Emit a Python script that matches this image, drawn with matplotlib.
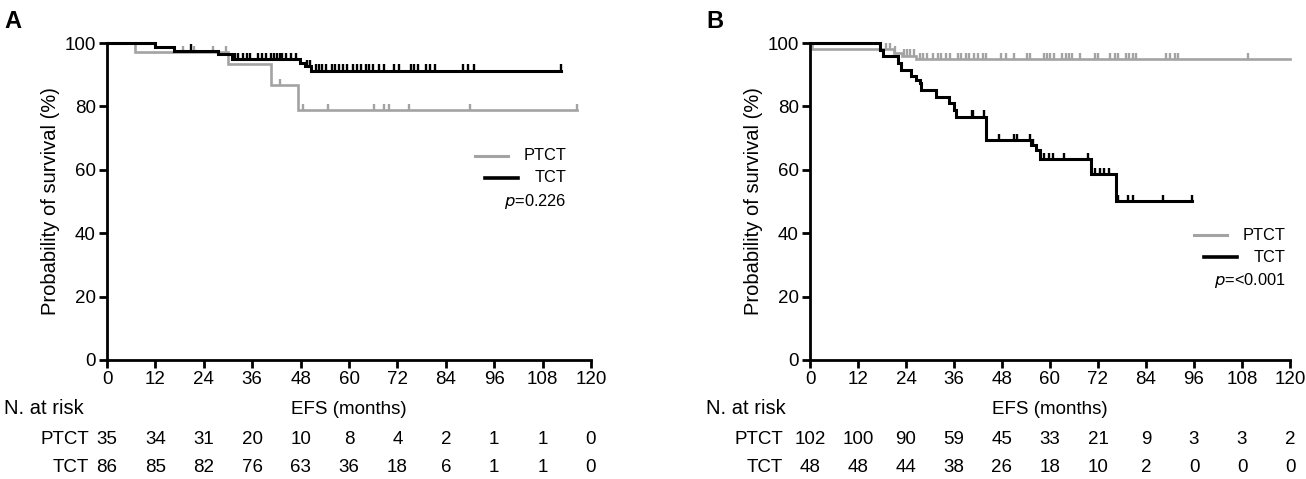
import numpy as np
import matplotlib
matplotlib.use('Agg')
import matplotlib.pyplot as plt
import matplotlib.transforms as mtransforms

plt.rcParams['font.family'] = ['Liberation Sans', 'DejaVu Sans']

GREY = '#a3a3a3'
BLACK = '#000000'
FS = 13.5
LEG_FS = 11.8
months = [0, 12, 24, 36, 48, 60, 72, 84, 96, 108, 120]

# ---- panel A ----
a_ptct_t = [0, 6.9, 30.0, 40.6, 47.4]
a_ptct_s = [100, 97.1, 93.4, 86.6, 78.9]
a_ptct_end = 116.5
a_ptct_cens = [18.9, 21.6, 26.2, 29.5, 43.0, 48.6, 54.8, 66.3, 68.7, 70.0,
               74.9, 89.9, 116.5]

a_tct_t = [0, 11.9, 16.6, 27.5, 31.0, 47.9, 49.1, 50.6]
a_tct_s = [100, 98.8, 97.6, 96.4, 95.0, 93.8, 92.6, 91.3]
a_tct_end = 112.5
a_tct_cens = [20.8, 31.8, 32.6, 33.8, 34.7, 35.5, 37.5, 38.5, 39.4, 40.7,
              41.3, 42.1, 42.9, 43.3, 44.3, 45.7, 46.8, 49.5, 50.3,
              51.8, 52.6, 53.4, 54.2, 55.8, 56.6, 57.4, 58.6, 59.6, 61.1,
              62.0, 63.0, 64.1, 65.0, 66.0, 67.4, 68.6, 71.1, 72.3, 75.3,
              76.2, 77.1, 79.2, 80.1, 81.2, 88.2, 89.5, 90.9, 112.5]

a_risk_ptct = [35, 34, 31, 20, 10, 8, 4, 2, 1, 1, 0]
a_risk_tct = [86, 85, 82, 76, 63, 36, 18, 6, 1, 1, 0]
a_pval = '=0.226'

# ---- panel B ----
b_ptct_t = [0, 0.6, 21.0, 23.0, 26.5]
b_ptct_s = [100, 98.0, 97.0, 96.0, 94.9]
b_ptct_end = 120
b_ptct_cens = [19.1, 20.0, 21.2, 23.5, 24.3, 25.0, 26.0, 27.4, 28.2, 29.3,
               30.7, 31.9, 32.8, 34.0, 35.1, 36.9, 37.7, 38.9, 39.8, 41.0,
               41.9, 43.2, 44.0, 47.7, 49.0, 51.0, 54.3, 55.1, 58.4, 59.3,
               60.1, 61.0, 63.0, 63.9, 64.7, 65.5, 67.6, 71.3, 72.1, 75.0,
               76.3, 77.1, 79.0, 79.8, 80.7, 81.5, 89.1, 90.0, 91.2, 92.0,
               109.5]

b_tct_t = [0, 17.4, 18.3, 22.0, 22.8, 25.3, 26.5, 27.4, 27.8, 31.5, 34.8,
           36.1, 36.5, 44.0, 55.3, 56.4, 57.5, 70.2, 76.5]
b_tct_s = [100, 97.9, 95.8, 93.7, 91.6, 89.5, 88.4, 87.3, 85.2, 83.1, 81.1,
           79.0, 76.8, 69.4, 67.8, 66.2, 63.3, 58.6, 50.2]
b_tct_end = 95.4
b_tct_cens = [40.4, 40.8, 43.5, 47.3, 51.0, 51.7, 55.0, 55.8, 58.6, 59.7,
              60.8, 63.4, 69.5, 71.3, 72.4, 73.6, 74.7, 77.0, 79.6, 80.7,
              88.3, 95.4]

b_risk_ptct = [102, 100, 90, 59, 45, 33, 21, 9, 3, 3, 2]
b_risk_tct = [48, 48, 44, 38, 26, 18, 10, 2, 0, 0, 0]
b_pval = '=<0.001'


def km_curve(ax, t, s, end, cens, color, lw):
    x = list(t) + [end]
    y = list(s) + [s[-1]]
    ax.step(x, y, where='post', color=color, lw=lw, clip_on=False,
            solid_joinstyle='miter')
    t = np.asarray(t)
    for c in cens:
        i = np.searchsorted(t, c, side='right') - 1
        ax.vlines(c, s[i], s[i] + 2.0, color=color, lw=1.7, clip_on=False)


def panel(fig, rect, letter, lx, rowx, leg, ptct, tct, risk_p, risk_t, pval):
    ax = fig.add_axes(rect)
    km_curve(ax, *ptct, GREY, 1.9)
    km_curve(ax, *tct, BLACK, 2.2)
    ax.set_xlim(0, 120)
    ax.set_ylim(0, 100)
    ax.set_xticks(months)
    ax.set_yticks([0, 20, 40, 60, 80, 100])
    for sp in ['top', 'right']:
        ax.spines[sp].set_visible(False)
    for sp in ['left', 'bottom']:
        ax.spines[sp].set_linewidth(2.0)
    ax.tick_params(width=2.0, length=6, labelsize=FS, pad=2, color='black')
    ax.set_ylabel('Probability of survival (%)', fontsize=14.5, labelpad=3)

    # legend, right aligned
    tr = ax.transAxes
    xr, y0 = leg
    dy = 0.07
    ax.plot([xr - 0.19, xr - 0.122], [y0, y0], color=GREY, lw=2.2,
            transform=tr, clip_on=False)
    ax.plot([xr - 0.17, xr - 0.10], [y0 - dy, y0 - dy], color=BLACK, lw=2.6,
            transform=tr, clip_on=False)
    ax.text(xr, y0, 'PTCT', transform=tr, ha='right', va='center', fontsize=LEG_FS)
    ax.text(xr, y0 - dy, 'TCT', transform=tr, ha='right', va='center', fontsize=LEG_FS)
    ax.text(xr, y0 - 2.05 * dy, r'$\it{p}$' + pval, transform=tr, ha='right',
            va='center', fontsize=LEG_FS)

    # risk table
    bt = mtransforms.blended_transform_factory(ax.transData, fig.transFigure)
    fig.text(lx, 1 - 409 / 479, 'N. at risk', ha='left', va='center', fontsize=14.5)
    ax.text(60, 1 - 409 / 479, 'EFS (months)', transform=bt, ha='center',
            va='center', fontsize=FS)
    fig.text(rowx, 1 - 440 / 479, 'PTCT', ha='right', va='center', fontsize=FS)
    fig.text(rowx, 1 - 467 / 479, 'TCT', ha='right', va='center', fontsize=FS)
    for m, n1, n2 in zip(months, risk_p, risk_t):
        ax.text(m, 1 - 440 / 479, str(n1), transform=bt, ha='center', va='center', fontsize=FS)
        ax.text(m, 1 - 467 / 479, str(n2), transform=bt, ha='center', va='center', fontsize=FS)

    fig.text(lx, 0.955, letter, fontsize=17, fontweight='bold',
             ha='left', va='center')
    return ax


fig = plt.figure(figsize=(13.06, 4.79), dpi=100)
h = (360 - 43) / 479
bottom = 1 - 360 / 479
panel(fig, [107 / 1306, bottom, 484 / 1306, h], 'A', 4 / 1306, 89 / 1306,
      (0.95, 0.645),
      (a_ptct_t, a_ptct_s, a_ptct_end, a_ptct_cens),
      (a_tct_t, a_tct_s, a_tct_end, a_tct_cens),
      a_risk_ptct, a_risk_tct, a_pval)
panel(fig, [810 / 1306, bottom, 480 / 1306, h], 'B', 706 / 1306, 783 / 1306,
      (0.99, 0.394),
      (b_ptct_t, b_ptct_s, b_ptct_end, b_ptct_cens),
      (b_tct_t, b_tct_s, b_tct_end, b_tct_cens),
      b_risk_ptct, b_risk_tct, b_pval)

fig.savefig('out.png', dpi=100)
